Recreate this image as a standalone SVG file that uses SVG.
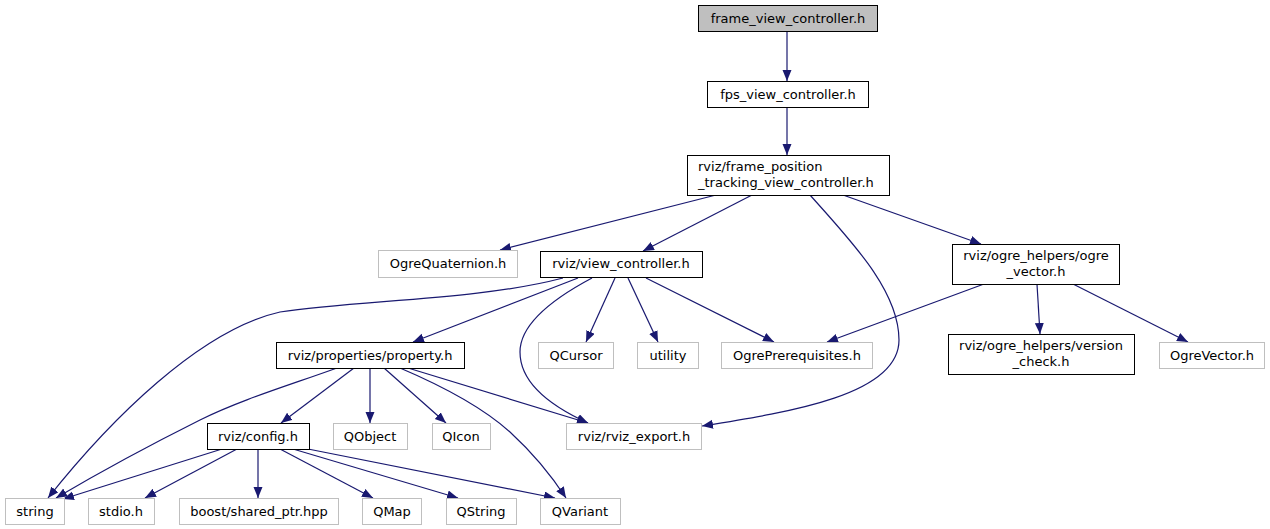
<svg xmlns="http://www.w3.org/2000/svg" width="1270" height="529" viewBox="0 0 1270 529">
<style>
  .n rect { fill: #ffffff; stroke: #000000; stroke-width: 1; }
  .u rect { fill: #ffffff; stroke: #bfbfbf; stroke-width: 1; }
  .root rect { fill: #bfbfbf; stroke: #000000; stroke-width: 1; }
  text { font-family: "DejaVu Sans", "Liberation Sans", sans-serif; font-size: 13px; fill: #000000; text-anchor: middle; }
  text.l { text-anchor: start; }
  #edges path { fill: none; stroke: #191970; stroke-width: 1.2; marker-end: url(#arr); }
</style>
<defs>
  <marker id="arr" markerUnits="userSpaceOnUse" markerWidth="12" markerHeight="10" refX="11" refY="4.5" orient="auto">
    <path d="M0,0 L11,4.5 L0,9 z" fill="#191970" stroke="none"/>
  </marker>
</defs>
<rect width="1270" height="529" fill="#ffffff"/>
<g id="edges">
  <path d="M787,31 L787,81"/>
  <path d="M787,107 L787,155"/>
  <path d="M716,195 L500,250"/>
  <path d="M752,195 L643,251"/>
  <path d="M810,195 C850,240 899,290 899,340 C899,395 790,412 702,426"/>
  <path d="M843,195 L981,244"/>
  <path d="M563,278 C480,300 360,300 280,312 C200,330 110,420 48,498"/>
  <path d="M578,278 L413,342"/>
  <path d="M592,278 C560,295 520,322 520,352 C520,385 555,408 588,423"/>
  <path d="M615,278 L586,342"/>
  <path d="M628,278 L658,342"/>
  <path d="M646,278 L774,342"/>
  <path d="M984,284 L827,342"/>
  <path d="M1037,284 L1040,334"/>
  <path d="M1073,284 L1188,342"/>
  <path d="M337,368 C290,385 240,400 200,420 C140,450 95,475 56,498"/>
  <path d="M354,368 L281,423"/>
  <path d="M370,368 L370,423"/>
  <path d="M384,368 L446,423"/>
  <path d="M408,368 L588,423"/>
  <path d="M400,368 C440,385 480,405 510,432 C535,455 553,478 566,498"/>
  <path d="M222,449 L63,499"/>
  <path d="M237,449 L145,498"/>
  <path d="M258,449 L258,498"/>
  <path d="M280,449 L373,498"/>
  <path d="M293,449 L458,498"/>
  <path d="M308,449 L555,498"/>
</g>
<g id="node_frame_view_controller" class="root"><rect x="698.5" y="5.5" width="179" height="26"/><text x="788" y="23">frame_view_controller.h</text></g>
<g id="node_fps_view_controller" class="n"><rect x="707.5" y="81.5" width="161" height="26"/><text x="788" y="99">fps_view_controller.h</text></g>
<g id="node_frame_position_tracking" class="n"><rect x="687.5" y="155.5" width="202" height="40"/><text class="l" x="698" y="171">rviz/frame_position</text><text class="l" x="698" y="187">_tracking_view_controller.h</text></g>
<g id="node_OgreQuaternion" class="u"><rect x="378.5" y="250.5" width="139" height="27"/><text x="448" y="268">OgreQuaternion.h</text></g>
<g id="node_view_controller" class="n"><rect x="540.5" y="251.5" width="162" height="26"/><text x="621" y="268">rviz/view_controller.h</text></g>
<g id="node_ogre_vector" class="n"><rect x="952.5" y="244.5" width="167" height="40"/><text x="1036" y="260">rviz/ogre_helpers/ogre</text><text x="1036" y="276">_vector.h</text></g>
<g id="node_property" class="n"><rect x="276.5" y="342.5" width="188" height="26"/><text x="370" y="360">rviz/properties/property.h</text></g>
<g id="node_QCursor" class="u"><rect x="538.5" y="342.5" width="75" height="26"/><text x="576" y="360">QCursor</text></g>
<g id="node_utility" class="u"><rect x="637.5" y="342.5" width="61" height="26"/><text x="668" y="360">utility</text></g>
<g id="node_OgrePrerequisites" class="u"><rect x="721.5" y="342.5" width="151" height="26"/><text x="797" y="360">OgrePrerequisites.h</text></g>
<g id="node_version_check" class="n"><rect x="948.5" y="334.5" width="186" height="40"/><text x="1041" y="350">rviz/ogre_helpers/version</text><text x="1041" y="366">_check.h</text></g>
<g id="node_OgreVector" class="u"><rect x="1159.5" y="342.5" width="105" height="26"/><text x="1212" y="360">OgreVector.h</text></g>
<g id="node_config" class="n"><rect x="207.5" y="423.5" width="102" height="26"/><text x="258" y="441">rviz/config.h</text></g>
<g id="node_QObject" class="u"><rect x="333.5" y="423.5" width="74" height="26"/><text x="370" y="441">QObject</text></g>
<g id="node_QIcon" class="u"><rect x="432.5" y="423.5" width="58" height="26"/><text x="461" y="441">QIcon</text></g>
<g id="node_rviz_export" class="u"><rect x="566.5" y="423.5" width="135" height="26"/><text x="634" y="441">rviz/rviz_export.h</text></g>
<g id="node_string" class="u"><rect x="5.5" y="498.5" width="59" height="26"/><text x="35" y="516">string</text></g>
<g id="node_stdio" class="u"><rect x="88.5" y="498.5" width="66" height="26"/><text x="121" y="516">stdio.h</text></g>
<g id="node_boost_shared_ptr" class="u"><rect x="179.5" y="498.5" width="159" height="26"/><text x="259" y="516">boost/shared_ptr.hpp</text></g>
<g id="node_QMap" class="u"><rect x="362.5" y="498.5" width="59" height="26"/><text x="392" y="516">QMap</text></g>
<g id="node_QString" class="u"><rect x="446.5" y="498.5" width="70" height="26"/><text x="481" y="516">QString</text></g>
<g id="node_QVariant" class="u"><rect x="540.5" y="498.5" width="80" height="26"/><text x="580" y="516">QVariant</text></g>
</svg>
